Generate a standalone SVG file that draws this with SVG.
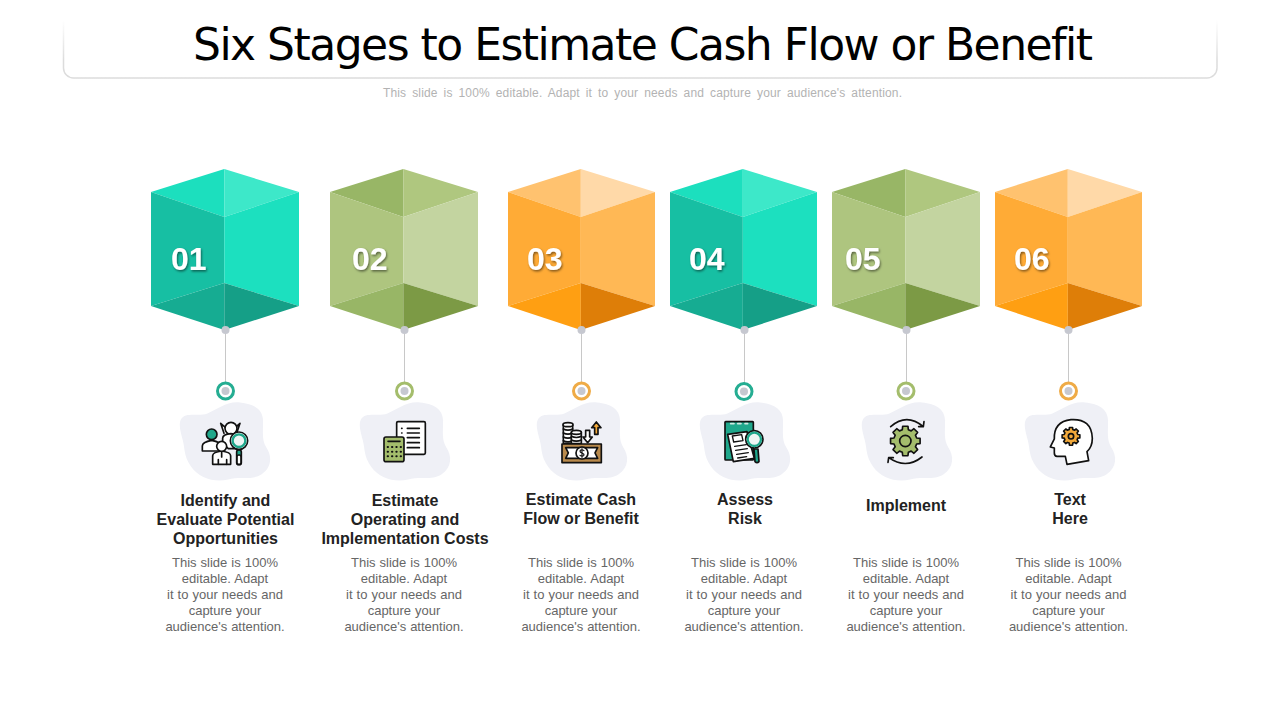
<svg xmlns="http://www.w3.org/2000/svg" width="1280" height="720" viewBox="0 0 1280 720">
<style>
text{font-family:"Liberation Sans",Arial,sans-serif}
.title{font-family:"DejaVu Sans",Verdana,sans-serif;font-size:44px;fill:#000;text-anchor:middle;font-variant-ligatures:none}
.sub{font-size:12px;fill:#b3b3b3;text-anchor:middle;word-spacing:2.5px}
.num{font-size:32px;font-weight:bold;fill:#fff;filter:url(#sh)}
.hd{font-size:16px;font-weight:bold;fill:#222;text-anchor:middle}
.bd{font-size:13px;fill:#666;text-anchor:middle;word-spacing:.4px}
.teal .a{fill:#1cdfbe}.teal .b{fill:#3de8c9}.teal .c{fill:#17bfa3}.teal .d{fill:#1ce0bf}.teal .e{fill:#16ac92}.teal .f{fill:#159f87}
.green .a{fill:#98b666}.green .b{fill:#afc77f}.green .c{fill:#aec57f}.green .d{fill:#c3d4a0}.green .e{fill:#98b666}.green .f{fill:#7c9a45}
.orange .a{fill:#ffc26f}.orange .b{fill:#ffd9a8}.orange .c{fill:#ffab36}.orange .d{fill:#ffb855}.orange .e{fill:#ff9f12}.orange .f{fill:#de7e08}
.stem{stroke:#c8c8c8;stroke-width:1}
.dot{fill:#c6c8d0}
.ring{fill:#fff;stroke-width:3}
.ic{stroke:#111;stroke-width:5;stroke-linejoin:round;stroke-linecap:round;fill:none}
.w{fill:#fff}.tl{fill:#1fa78b}.gr{fill:#a4bd6c}.or{fill:#f2a93b}.br{fill:#b98a4c}
</style>
<defs>
<filter id="sh" x="-20%" y="-20%" width="140%" height="140%"><feDropShadow dx="1" dy="1.5" stdDeviation="1" flood-color="#000" flood-opacity=".5"/></filter>
<linearGradient id="fade" gradientUnits="userSpaceOnUse" x1="0" y1="20" x2="0" y2="60"><stop offset="0" stop-color="#fff"/><stop offset="1" stop-color="#dcdcdc"/></linearGradient>
<path id="blob" fill="#eff0f6" transform="matrix(1.03 0 0 1.03 -0.95 -6)" d="M33 135C45 112 85 128 110 118C140 106 165 82 205 86C245 90 272 105 272 140C272 175 268 195 282 218C298 242 298 275 268 295C240 314 205 300 170 310C130 320 85 305 62 272C40 240 45 220 38 195C32 172 25 150 33 135Z"/>
<polygon id="gear" points="75.3,-20.2 98.5,-17.4 98.5,17.4 75.3,20.2 67.5,39 81.9,57.4 57.4,81.9 39,67.5 20.2,75.3 17.4,98.5 -17.4,98.5 -20.2,75.3 -39,67.5 -57.4,81.9 -81.9,57.4 -67.5,39 -75.3,20.2 -98.5,17.4 -98.5,-17.4 -75.3,-20.2 -67.5,-39 -81.9,-57.4 -57.4,-81.9 -39,-67.5 -20.2,-75.3 -17.4,-98.5 17.4,-98.5 20.2,-75.3 39,-67.5 57.4,-81.9 81.9,-57.4 67.5,-39"/>
</defs>
<rect width="1280" height="720" fill="#fff"/>

<g id="header">
<path d="M63.500 18V68a10 10 0 0 0 10 10H1207a10 10 0 0 0 10-10V18" fill="#fff" stroke="url(#fade)" stroke-width="1.500"/>
<text class="title" x="643" y="60" textLength="900" lengthAdjust="spacing">Six Stages to Estimate Cash Flow or Benefit</text>
<text class="sub" x="642.500" y="97" textLength="519" lengthAdjust="spacing">This slide is 100% editable. Adapt it to your needs and capture your audience's attention.</text>
</g>

<g id="connectors">
<line class="stem" x1="225.500" y1="330" x2="225.500" y2="390"/><line class="stem" x1="404.500" y1="330" x2="404.500" y2="390"/><line class="stem" x1="581.500" y1="330" x2="581.500" y2="390"/><line class="stem" x1="744.500" y1="330" x2="744.500" y2="390"/><line class="stem" x1="906.500" y1="330" x2="906.500" y2="390"/><line class="stem" x1="1068.500" y1="330" x2="1068.500" y2="390"/>
</g>

<g id="stage-01">
<g class="teal" transform="translate(225 0)"><polygon class="a" points="-.7,169 -74,192 -.7,217"/><polygon class="b" points="-.7,169 74,192 -.7,217"/><polygon class="c" points="-74,192 -.7,217 -.7,283 -74,306"/><polygon class="d" points="74,192 -.7,217 -.7,283 74,306"/><polygon class="e" points="-74,306 -.7,283 -.7,330"/><polygon class="f" points="74,306 -.7,283 -.7,330"/></g>
<text class="num" x="171" y="270">01</text>
<circle class="dot" cx="225.500" cy="330" r="4"/><circle class="ring" cx="225.500" cy="391" r="8" stroke="#25ad92"/><circle class="dot" cx="225.500" cy="391" r="4"/>
<g transform="translate(170 375) scale(.3333)"><use href="#blob"/>
<g class="ic"><path class="w" d="M162 175l-10-30 14 12h30l14-12-10 30"/><circle class="w" cx="183" cy="160" r="18"/><path class="w" d="M158 205v-15q0-12 25-14q25 2 25 25v20h-33z"/>
<path class="w" d="M97 228v-15q0-12 28-17q28 5 28 17v15z"/><circle class="tl" cx="125" cy="178" r="16"/>
<path class="w" d="M128 268v-26q0-10 27-14q27 4 27 14v26z"/><circle class="w" cx="155" cy="214" r="15"/><path d="M155 232v14M145 268v-14M170 268v-14"/>
<rect class="tl" x="200" y="225" width="14" height="44" rx="6"/><rect class="w" x="201" y="240" width="12" height="28" rx="5"/><circle class="w" cx="207" cy="197" r="26"/><circle cx="207" cy="197" r="19" fill="#eef6f4" stroke="#1fa78b" stroke-width="7"/></g></g>
<text class="hd" x="225.500" y="506">Identify and</text><text class="hd" x="225.500" y="525">Evaluate Potential</text><text class="hd" x="225.500" y="544">Opportunities</text>
<text class="bd" x="225" y="567">This slide is 100%</text><text class="bd" x="225" y="583">editable. Adapt</text><text class="bd" x="225" y="599">it to your needs and</text><text class="bd" x="225" y="615">capture your</text><text class="bd" x="225" y="631">audience's attention.</text>
</g>

<g id="stage-02">
<g class="green" transform="translate(404 0)"><polygon class="a" points="-.7,169 -74,192 -.7,217"/><polygon class="b" points="-.7,169 74,192 -.7,217"/><polygon class="c" points="-74,192 -.7,217 -.7,283 -74,306"/><polygon class="d" points="74,192 -.7,217 -.7,283 74,306"/><polygon class="e" points="-74,306 -.7,283 -.7,330"/><polygon class="f" points="74,306 -.7,283 -.7,330"/></g>
<text class="num" x="352" y="270">02</text>
<circle class="dot" cx="404.500" cy="330" r="4"/><circle class="ring" cx="404.500" cy="391" r="8" stroke="#a4bd6c"/><circle class="dot" cx="404.500" cy="391" r="4"/>
<g transform="translate(350 375) scale(.3333)"><use href="#blob"/>
<g class="ic"><rect class="w" x="140" y="140" width="86" height="98" rx="4"/><path d="M172 160h36M172 174h36M172 188h36M172 203h36M172 218h36M155 160h1M155 174h1"/>
<rect class="gr" x="102" y="186" width="60" height="74" rx="6"/><path d="M114 199h36"/><path stroke-width="6" stroke-dasharray="1 12" d="M113 216h40M113 230h40M113 244h40"/></g></g>
<text class="hd" x="405" y="506">Estimate</text><text class="hd" x="405" y="525">Operating and</text><text class="hd" x="405" y="544">Implementation Costs</text>
<text class="bd" x="404" y="567">This slide is 100%</text><text class="bd" x="404" y="583">editable. Adapt</text><text class="bd" x="404" y="599">it to your needs and</text><text class="bd" x="404" y="615">capture your</text><text class="bd" x="404" y="631">audience's attention.</text>
</g>

<g id="stage-03">
<g class="orange" transform="translate(581.500 0)"><polygon class="a" points="-.7,169 -73.500,192 -.7,217"/><polygon class="b" points="-.7,169 73.500,192 -.7,217"/><polygon class="c" points="-73.500,192 -.7,217 -.7,283 -73.500,306"/><polygon class="d" points="73.500,192 -.7,217 -.7,283 73.500,306"/><polygon class="e" points="-73.500,306 -.7,283 -.7,330"/><polygon class="f" points="73.500,306 -.7,283 -.7,330"/></g>
<text class="num" x="527" y="270">03</text>
<circle class="dot" cx="581.500" cy="330" r="4"/><circle class="ring" cx="581.500" cy="391" r="8" stroke="#efab46"/><circle class="dot" cx="581.500" cy="391" r="4"/>
<g transform="translate(527 375) scale(.3333)"><use href="#blob"/>
<g class="ic" stroke-width="4"><path class="w" d="M109 150v55h28v-55z"/><ellipse class="w" cx="123" cy="149" rx="15" ry="6"/><path d="M109 162q14 7 28 0M109 174q14 7 28 0M109 186q14 7 28 0M109 197q14 7 28 0"/>
<path class="w" d="M133 172v34h30v-34z"/><ellipse class="w" cx="148" cy="172" rx="15" ry="6"/><path d="M133 184q15 7 30 0M133 195q15 7 30 0"/>
<path class="w" d="M176 166h12v20h8l-14 17l-14-17h8z"/><path class="or" d="M203 178v-20h-9l14-17l14 17h-9v20z"/>
<rect class="br" x="105" y="207" width="118" height="56"/><path class="w" d="M116 218h96l-8 16l8 16h-96l8-16z"/><circle class="w" cx="165" cy="234" r="18"/><path stroke-width="3.500" d="M171 227q-6-5-11-1q-3 5 5 8q8 3 5 8q-5 4-11-1M165 221v26"/></g></g>
<text class="hd" x="581" y="505">Estimate Cash</text><text class="hd" x="581" y="524">Flow or Benefit</text>
<text class="bd" x="581" y="567">This slide is 100%</text><text class="bd" x="581" y="583">editable. Adapt</text><text class="bd" x="581" y="599">it to your needs and</text><text class="bd" x="581" y="615">capture your</text><text class="bd" x="581" y="631">audience's attention.</text>
</g>

<g id="stage-04">
<g class="teal" transform="translate(743.500 0)"><polygon class="a" points="-.7,169 -73.500,192 -.7,217"/><polygon class="b" points="-.7,169 73.500,192 -.7,217"/><polygon class="c" points="-73.500,192 -.7,217 -.7,283 -73.500,306"/><polygon class="d" points="73.500,192 -.7,217 -.7,283 73.500,306"/><polygon class="e" points="-73.500,306 -.7,283 -.7,330"/><polygon class="f" points="73.500,306 -.7,283 -.7,330"/></g>
<text class="num" x="689" y="270">04</text>
<circle class="dot" cx="744.500" cy="330" r="4"/><circle class="ring" cx="744" cy="391.500" r="8" stroke="#25ad92"/><circle class="dot" cx="744" cy="391.500" r="4"/>
<g transform="translate(690 375) scale(.3333)"><use href="#blob"/>
<g class="ic"><rect class="tl" x="105" y="140" width="85" height="115" rx="2"/><path stroke="#cfe9e2" d="M122 146h10M143 146h10M165 146h8"/>
<path class="w" d="M113 178l58-8l22 80l-63 10z"/><path stroke-width="4" class="w" d="M127 183l28-4l4 18l-28 4z"/><path stroke-width="4" d="M134 214l35-5M137 226l35-5M140 238l35-5M143 249l27-4"/>
<path class="tl" d="M192 222l12 0l3 38q-6 6-12 0z"/><circle class="w" cx="193" cy="193" r="26"/><circle cx="193" cy="193" r="20" fill="#eef6f4" stroke="#1fa78b" stroke-width="7"/></g></g>
<text class="hd" x="745" y="505">Assess</text><text class="hd" x="745" y="524">Risk</text>
<text class="bd" x="744" y="567">This slide is 100%</text><text class="bd" x="744" y="583">editable. Adapt</text><text class="bd" x="744" y="599">it to your needs and</text><text class="bd" x="744" y="615">capture your</text><text class="bd" x="744" y="631">audience's attention.</text>
</g>

<g id="stage-05">
<g class="green" transform="translate(906 0)"><polygon class="a" points="-.7,169 -74,192 -.7,217"/><polygon class="b" points="-.7,169 74,192 -.7,217"/><polygon class="c" points="-74,192 -.7,217 -.7,283 -74,306"/><polygon class="d" points="74,192 -.7,217 -.7,283 74,306"/><polygon class="e" points="-74,306 -.7,283 -.7,330"/><polygon class="f" points="74,306 -.7,283 -.7,330"/></g>
<text class="num" x="845" y="270">05</text>
<circle class="dot" cx="906.500" cy="330" r="4"/><circle class="ring" cx="906" cy="391" r="8" stroke="#a4bd6c"/><circle class="dot" cx="906" cy="391" r="4"/>
<g transform="translate(852 375) scale(.3333)"><use href="#blob"/>
<g class="ic"><path d="M116 155q48-42 98 0M214 155l-14 0M214 155l2-15"/><path d="M210 246q-48 38-100 2M110 248l14 0M110 248l-2 14"/>
<use href="#gear" stroke-width="11" transform="translate(160 198) scale(.45)" style="fill:#a4bd6c"/><circle cx="160" cy="198" r="17" class="gr"/></g></g>
<text class="hd" x="906" y="511">Implement</text>
<text class="bd" x="906" y="567">This slide is 100%</text><text class="bd" x="906" y="583">editable. Adapt</text><text class="bd" x="906" y="599">it to your needs and</text><text class="bd" x="906" y="615">capture your</text><text class="bd" x="906" y="631">audience's attention.</text>
</g>

<g id="stage-06">
<g class="orange" transform="translate(1068.500 0)"><polygon class="a" points="-.7,169 -73.500,192 -.7,217"/><polygon class="b" points="-.7,169 73.500,192 -.7,217"/><polygon class="c" points="-73.500,192 -.7,217 -.7,283 -73.500,306"/><polygon class="d" points="73.500,192 -.7,217 -.7,283 73.500,306"/><polygon class="e" points="-73.500,306 -.7,283 -.7,330"/><polygon class="f" points="73.500,306 -.7,283 -.7,330"/></g>
<text class="num" x="1014" y="270">06</text>
<circle class="dot" cx="1068.500" cy="330" r="4"/><circle class="ring" cx="1068.500" cy="391" r="8" stroke="#efab46"/><circle class="dot" cx="1068.500" cy="391" r="4"/>
<g transform="translate(1015 375) scale(.3333)"><use href="#blob"/>
<g class="ic"><path class="w" d="M156 268l-5-24h-25q-8 0-8-10v-15l-12-3l12-24q-2-52 50-58q62-4 64 56q0 26-16 40l5 27z"/>
<use href="#gear" transform="translate(168 184) scale(.27)" stroke-width="18" style="fill:#f2a93b"/><circle cx="168" cy="184" r="8" fill="#f2a93b"/></g></g>
<text class="hd" x="1070" y="505">Text</text><text class="hd" x="1070" y="524">Here</text>
<text class="bd" x="1068.500" y="567">This slide is 100%</text><text class="bd" x="1068.500" y="583">editable. Adapt</text><text class="bd" x="1068.500" y="599">it to your needs and</text><text class="bd" x="1068.500" y="615">capture your</text><text class="bd" x="1068.500" y="631">audience's attention.</text>
</g>
</svg>
